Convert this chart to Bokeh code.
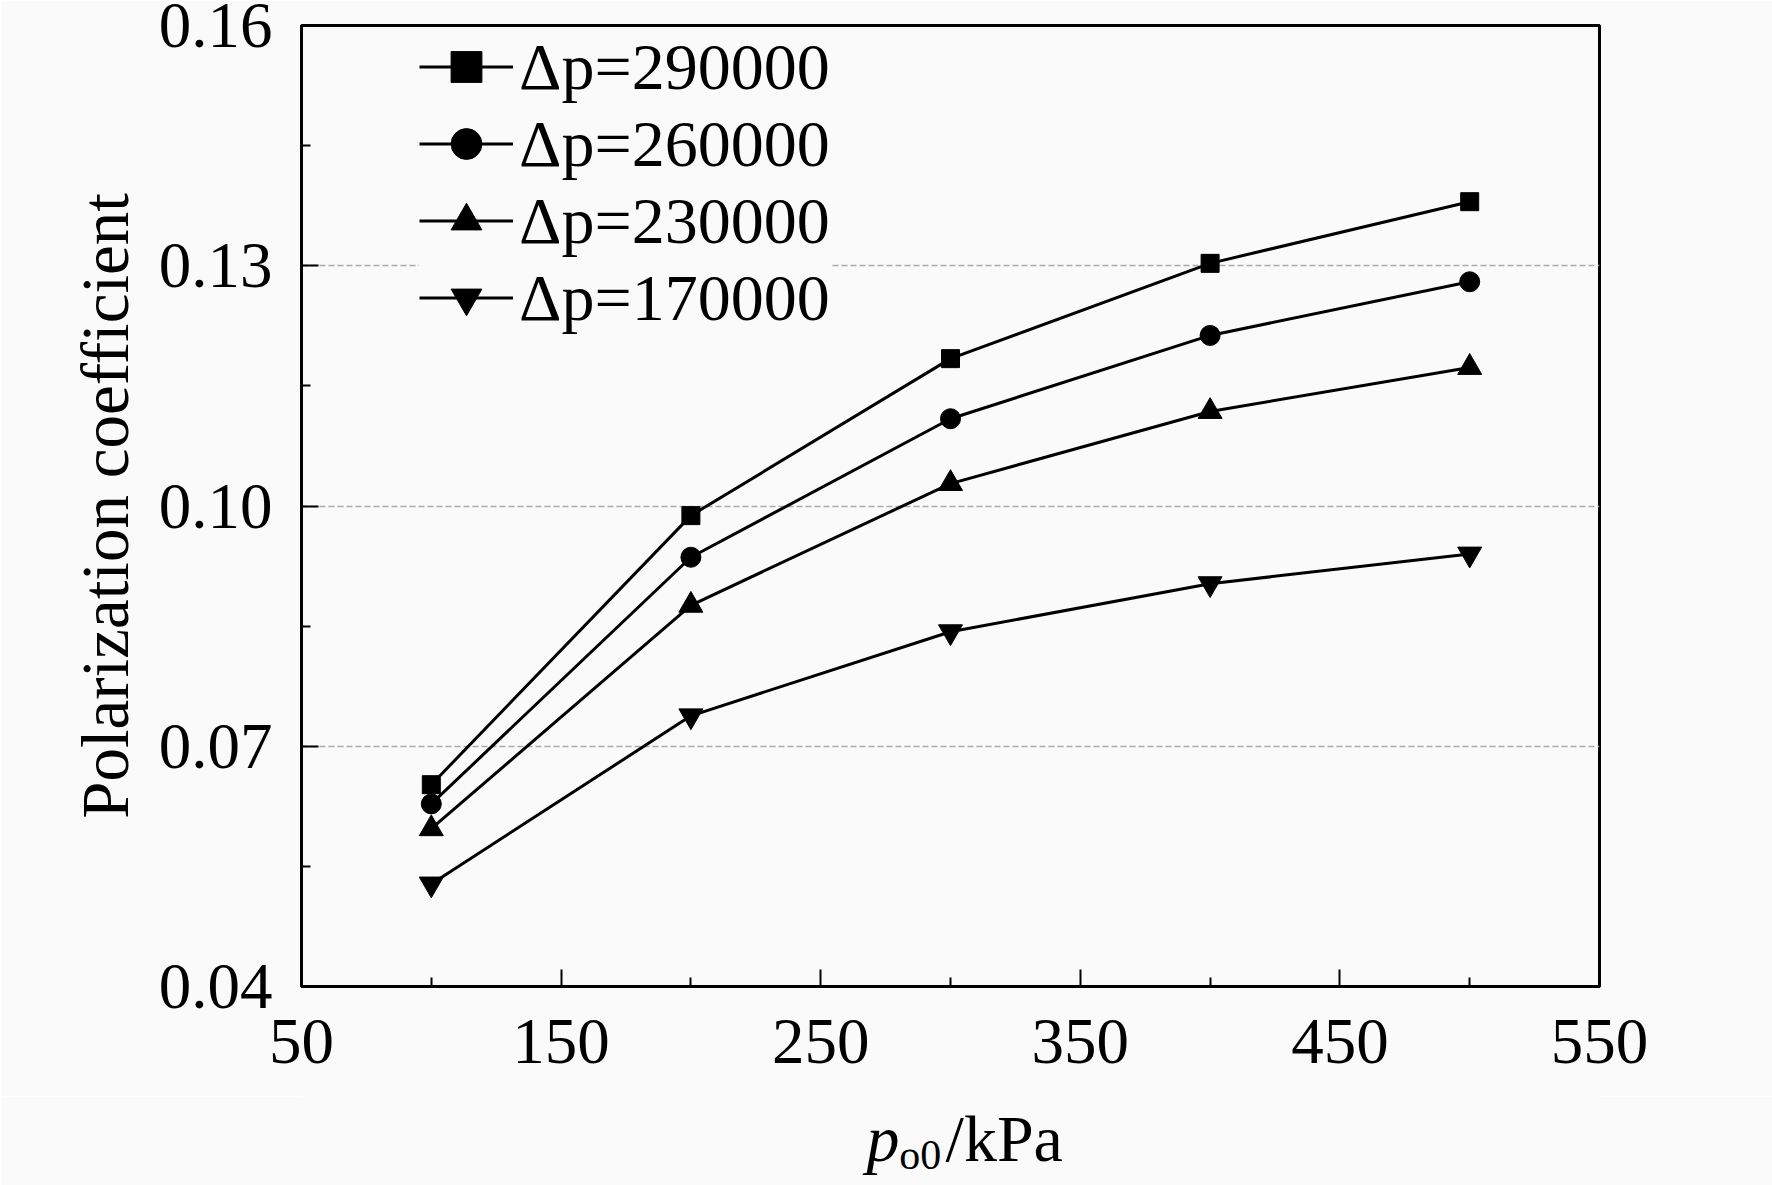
from bokeh.plotting import figure
from bokeh.layouts import column
from bokeh.models import (Legend, LegendItem, FixedTicker, NumeralTickFormatter,
                          Range1d)
from bokeh.core.properties import value
from bokeh.embed import file_html
from bokeh.resources import INLINE

# ---- data ----
pressure = [100, 200, 300, 400, 500]
series_labels = ["Δp=290000", "Δp=260000", "Δp=230000", "Δp=170000"]
s290 = [0.0652, 0.0988, 0.1184, 0.1303, 0.1380]
s260 = [0.0628, 0.0936, 0.1109, 0.1213, 0.1280]
s230 = [0.0597, 0.0876, 0.1028, 0.1118, 0.1173]
s170 = [0.0528, 0.0738, 0.0843, 0.0903, 0.0940]
markers = ["square", "circle", "triangle", "inverted_triangle"]
marker_sizes = [18, 20, 24, 24]

x_ticks = [50, 150, 250, 350, 450, 550]
x_minor = [100, 200, 300, 400, 500]
y_ticks = [0.04, 0.07, 0.10, 0.13, 0.16]
y_minor = [0.055, 0.085, 0.115, 0.145]

# x-axis title pieces: p (italic), o0 (subscript), /kPa
xlabel_parts = ["p", "o0", "/kPa"]

FONT = "Liberation Serif"
BG = "#fafafa"

W = 1772
H_MAIN = 1096
H_XLAB = 1185 - H_MAIN

p = figure(width=W, height=H_MAIN, output_backend="svg", toolbar_location=None,
           x_range=Range1d(50, 550), y_range=Range1d(0.04, 0.16),
           min_border_left=301, min_border_right=173,
           min_border_top=25, min_border_bottom=110)
p.background_fill_color = BG
p.border_fill_color = BG
p.outline_line_color = "black"
p.outline_line_width = 3

for ax in (p.xaxis[0], p.yaxis[0]):
    ax.axis_line_width = 3
    ax.major_tick_line_width = 2
    ax.minor_tick_line_width = 2
    ax.major_tick_in = 17
    ax.major_tick_out = 0
    ax.minor_tick_in = 9
    ax.minor_tick_out = 0
    ax.major_label_text_font = FONT
    ax.major_label_text_font_size = "65px"
    ax.major_label_text_color = "black"

p.xaxis.ticker = FixedTicker(ticks=x_ticks, minor_ticks=x_minor)
p.yaxis.ticker = FixedTicker(ticks=y_ticks, minor_ticks=y_minor)
p.yaxis.formatter = NumeralTickFormatter(format="0.00")
p.xaxis.major_label_standoff = 33
p.yaxis.major_label_standoff = 29

p.yaxis.axis_label = "Polarization coefficient"
p.yaxis.axis_label_text_font = FONT
p.yaxis.axis_label_text_font_size = "67px"
p.yaxis.axis_label_text_font_style = "normal"
p.yaxis.axis_label_text_color = "black"
p.yaxis.axis_label_standoff = 14

p.xgrid.visible = False
p.ygrid.grid_line_color = "#aaaaaa"
p.ygrid.grid_line_width = 1.5
p.ygrid.grid_line_dash = "6 3"

items = []
for lab, ys, mk, ms in zip(series_labels, [s290, s260, s230, s170], markers, marker_sizes):
    r1 = p.line(pressure, ys, line_color="black", line_width=3)
    r2 = p.scatter(pressure, ys, marker=mk, size=ms, fill_color="black",
                   line_color="black")
    items.append(LegendItem(label=lab, renderers=[r1, r2]))

legend = Legend(items=items, location=(118, 650))
legend.label_text_font = FONT
legend.label_text_font_size = "66px"
legend.label_text_color = "black"
legend.glyph_width = 94
legend.glyph_height = 77
legend.label_height = 77
legend.spacing = 0
legend.padding = 5
legend.margin = 0
legend.label_standoff = 6
legend.border_line_color = None
legend.background_fill_color = BG
legend.background_fill_alpha = 1.0
p.add_layout(legend)

# ---- strip below holding the x-axis title; shares the x scale of the chart ----
q = figure(width=W, height=H_XLAB, output_backend="svg", toolbar_location=None,
           title=None,
           x_range=p.x_range, y_range=Range1d(H_XLAB, 0),
           x_axis_type=None, y_axis_type=None,
           min_border_left=301, min_border_right=173,
           min_border_top=0, min_border_bottom=0)
q.background_fill_color = BG
q.border_fill_color = BG
q.outline_line_color = None
q.grid.visible = False

q.text(x=[267.6], y=[42], text=[xlabel_parts[0]], text_font=value(FONT),
       text_font_size="66px", text_font_style="italic", text_color="black",
       text_baseline="alphabetic", text_align="left")
q.text(x=[280.3], y=[58], text=[xlabel_parts[1]], text_font=value(FONT),
       text_font_size="42px", text_color="black",
       text_baseline="alphabetic", text_align="left")
q.text(x=[298.1], y=[42], text=[xlabel_parts[2]], text_font=value(FONT),
       text_font_size="66px", text_color="black",
       text_baseline="alphabetic", text_align="left")

layout = column(p, q, spacing=0)
open("out.html", "w").write(file_html(layout, INLINE))
